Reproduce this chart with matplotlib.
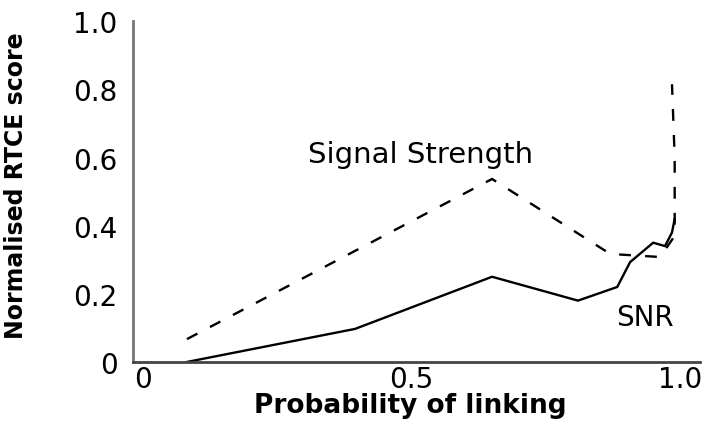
import matplotlib
matplotlib.use("Agg")
import matplotlib.pyplot as plt

# values
snr_x = [0.082, 0.395, 0.65, 0.81, 0.883, 0.907, 0.95, 0.972, 0.985, 0.99]
snr_y = [0.0, 0.097, 0.25, 0.18, 0.22, 0.293, 0.35, 0.34, 0.38, 0.42]

sig_x = [0.082, 0.65, 0.87, 0.963, 0.99, 0.99, 0.985]
sig_y = [0.067, 0.537, 0.317, 0.308, 0.37, 0.6, 0.815]

x_ticks = [0, 0.5, 1.0]
x_labels = ["0", "0.5", "1.0"]
y_ticks = [0, 0.2, 0.4, 0.6, 0.8, 1.0]
y_labels = ["0", "0.2", "0.4", "0.6", "0.8", "1.0"]

fig = plt.figure(figsize=(7.07, 4.27), dpi=100)
ax = fig.add_axes([0.188, 0.15, 0.802, 0.798])

ax.plot(snr_x, snr_y, color="black", lw=1.7)
ax.plot(sig_x, sig_y, color="black", lw=1.7, linestyle=(0, (5, 6)))

ax.text(0.516, 0.61, "Signal Strength", fontsize=21, ha="center", va="center")
ax.text(0.935, 0.132, "SNR", fontsize=20, ha="center", va="center")

ax.set_xlim(-0.0186, 1.037)
ax.set_ylim(0, 1.0)
ax.set_xticks(x_ticks)
ax.set_xticklabels(x_labels)
ax.set_yticks(y_ticks)
ax.set_yticklabels(y_labels)
ax.tick_params(axis="both", length=0, labelsize=20)
ax.tick_params(axis="y", pad=11)
ax.tick_params(axis="x", pad=2)

for s in ["top", "right"]:
    ax.spines[s].set_visible(False)
ax.spines["left"].set_color("#777777")
ax.spines["left"].set_linewidth(2)
ax.spines["bottom"].set_color("#444444")
ax.spines["bottom"].set_linewidth(2)

ax.set_xlabel("Probability of linking", fontsize=19, fontweight="bold")
ax.xaxis.set_label_coords(0.489, -0.088)
ax.set_ylabel("Normalised RTCE score", fontsize=17, fontweight="bold",
              family=["Liberation Sans Narrow", "DejaVu Sans"])
ax.yaxis.set_label_coords(-0.185, 0.52)

fig.savefig("out.png", dpi=100)
